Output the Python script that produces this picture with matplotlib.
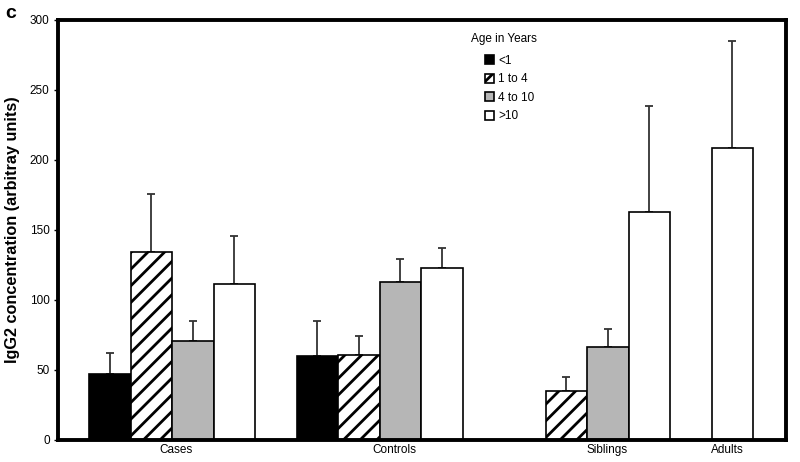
import numpy as np
import matplotlib
matplotlib.use("Agg")
import matplotlib.pyplot as plt

plt.rcParams['font.family'] = ['Liberation Sans', 'DejaVu Sans']
plt.rcParams['hatch.linewidth'] = 2.0

groups = ["Cases", "Controls", "Siblings", "Adults"]
ages = ["<1", "1 to 4", "4 to 10", ">10"]
nan = np.nan
# mean values per age group, across groups (Cases, Controls, Siblings, Adults)
mean_lt1 = [47, 60, nan, nan]
mean_1to4 = [134, 61, 35, nan]
mean_4to10 = [71, 113, 66.7, nan]
mean_gt10 = [111.5, 122.6, 163, 208.8]
# upper error (SD)
err_lt1 = [15.4, 25, nan, nan]
err_1to4 = [41.5, 13, 9.8, nan]
err_4to10 = [14, 16.5, 12.3, nan]
err_gt10 = [34.5, 14.8, 75.6, 76.4]

means = [mean_lt1, mean_1to4, mean_4to10, mean_gt10]
errs = [err_lt1, err_1to4, err_4to10, err_gt10]

styles = [
    dict(facecolor="black", hatch=None),
    dict(facecolor="white", hatch="//"),
    dict(facecolor="#b6b6b6", hatch=None),
    dict(facecolor="white", hatch=None),
]

fig = plt.figure(figsize=(8, 4.62), dpi=100)
ax = fig.add_axes([58/800, 22/462, 728/800, 420/462])

# group start positions (units of one bar width); Adults white bar in first slot
group_start = np.array([0.75, 5.75, 10.75, 15.75])
slot_offset = [0, 1, 2, 3]
handles = []
for k in range(4):
    m = np.array(means[k], dtype=float)
    e = np.array(errs[k], dtype=float)
    if k == 3:
        xs = group_start + np.array([3, 3, 3, 0])
    else:
        xs = group_start + slot_offset[k]
    ok = ~np.isnan(m)
    b = ax.bar(xs[ok], m[ok], width=1.0, align="edge",
               facecolor=styles[k]["facecolor"], hatch=styles[k]["hatch"],
               edgecolor="black", linewidth=1.2, zorder=2, label=ages[k])
    handles.append(b)
    ax.errorbar(xs[ok] + 0.5, m[ok], yerr=[np.zeros(ok.sum()), e[ok]],
                fmt="none", ecolor="#333333", elinewidth=1.3, capsize=3,
                capthick=1.3, zorder=1)

ax.set_xlim(0, 728/41.5)
ax.set_ylim(0, 300)
ax.set_yticks(np.arange(0, 301, 50))
ax.tick_params(axis="y", labelsize=8.5, length=3, width=1, pad=3)
ax.tick_params(axis="x", length=0, labelsize=8.5, pad=3)
label_pos = [2.84, 8.11, 13.23, 16.12]
ax.set_xticks(label_pos)
ax.set_xticklabels(groups)
for s in ax.spines.values():
    s.set_linewidth(2.8)
    s.set_zorder(5)

ax.set_ylabel("IgG2 concentration (arbitray units)", fontsize=11.7,
              fontweight="bold", labelpad=7)

fig.text(5/800, 1 - 14/462, "c", fontsize=14, fontweight="bold",
         va="center", ha="left")

fig.text(504/800, 1 - 39/462, "Age in Years", fontsize=8.5,
         ha="center", va="center")
leg = ax.legend(handles=handles, labels=ages, loc="upper left",
                bbox_to_anchor=(479/800, 1 - 49/462),
                bbox_transform=fig.transFigure, frameon=False,
                fontsize=8.5, handlelength=0.8, handleheight=0.8,
                handletextpad=0.3, labelspacing=0.55, borderpad=0)

fig.savefig("out.png", dpi=100)
